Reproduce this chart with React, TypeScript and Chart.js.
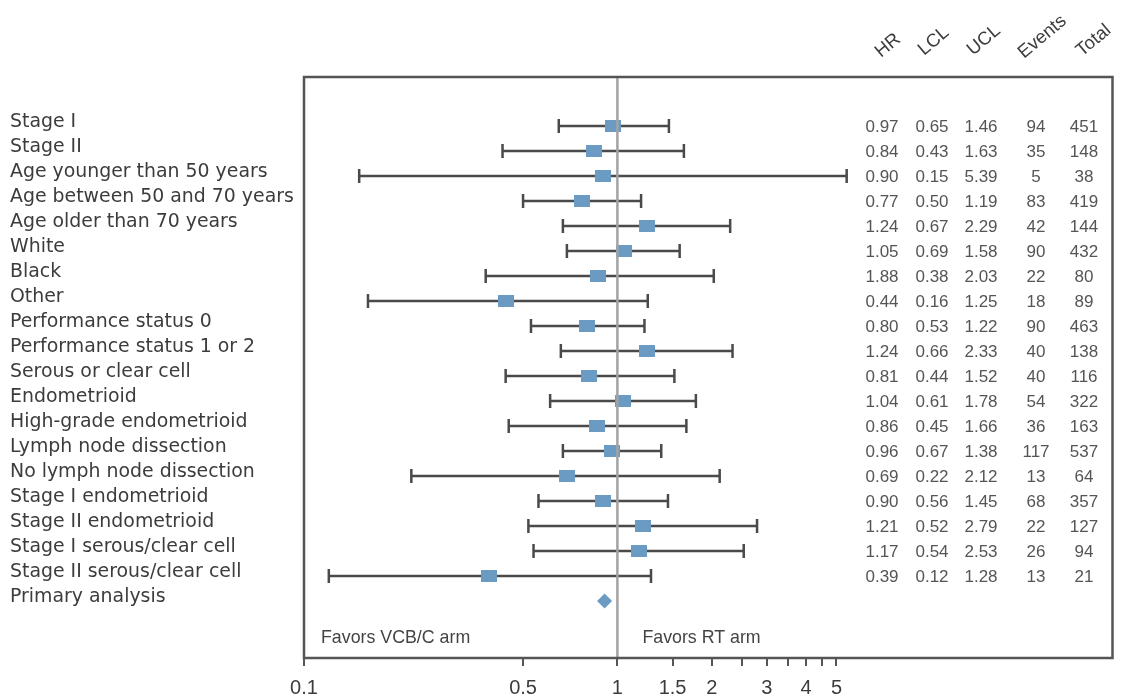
import React, { useEffect, useRef } from 'react';
import { Chart, registerables } from 'chart.js';

Chart.register(...registerables);

// ---------- data ----------
const subgroups = [
  'Stage I',
  'Stage II',
  'Age younger than 50 years',
  'Age between 50 and 70 years',
  'Age older than 70 years',
  'White',
  'Black',
  'Other',
  'Performance status 0',
  'Performance status 1 or 2',
  'Serous or clear cell',
  'Endometrioid',
  'High-grade endometrioid',
  'Lymph node dissection',
  'No lymph node dissection',
  'Stage I endometrioid',
  'Stage II endometrioid',
  'Stage I serous/clear cell',
  'Stage II serous/clear cell',
  'Primary analysis',
];

// plotted marker positions
const pointHR = [0.97, 0.84, 0.9, 0.77, 1.24, 1.05, 0.87, 0.44, 0.8, 1.24, 0.81, 1.04, 0.86, 0.96, 0.69, 0.9, 1.21, 1.17, 0.39];
const lowerCI = [0.65, 0.43, 0.15, 0.5, 0.67, 0.69, 0.38, 0.16, 0.53, 0.66, 0.44, 0.61, 0.45, 0.67, 0.22, 0.56, 0.52, 0.54, 0.12];
const upperCI = [1.46, 1.63, 5.39, 1.19, 2.29, 1.58, 2.03, 1.25, 1.22, 2.33, 1.52, 1.78, 1.66, 1.38, 2.12, 1.45, 2.79, 2.53, 1.28];
const primaryHR = 0.91;

// table text
const hrText = ['0.97', '0.84', '0.90', '0.77', '1.24', '1.05', '1.88', '0.44', '0.80', '1.24', '0.81', '1.04', '0.86', '0.96', '0.69', '0.90', '1.21', '1.17', '0.39'];
const lclText = ['0.65', '0.43', '0.15', '0.50', '0.67', '0.69', '0.38', '0.16', '0.53', '0.66', '0.44', '0.61', '0.45', '0.67', '0.22', '0.56', '0.52', '0.54', '0.12'];
const uclText = ['1.46', '1.63', '5.39', '1.19', '2.29', '1.58', '2.03', '1.25', '1.22', '2.33', '1.52', '1.78', '1.66', '1.38', '2.12', '1.45', '2.79', '2.53', '1.28'];
const eventsText = ['94', '35', '5', '83', '42', '90', '22', '18', '90', '40', '40', '54', '36', '117', '13', '68', '22', '26', '13'];
const totalText = ['451', '148', '38', '419', '144', '432', '80', '89', '463', '138', '116', '322', '163', '537', '64', '357', '127', '94', '21'];
const tableHeaders = ['HR', 'LCL', 'UCL', 'Events', 'Total'];

const xTicks = [0.1, 0.5, 1, 1.5, 2, 2.5, 3, 3.5, 4, 4.5, 5];
const xTickLabels = ['0.1', '0.5', '1', '1.5', '2', '', '3', '', '4', '', '5'];
const leftNote = 'Favors VCB/C arm';
const rightNote = 'Favors RT arm';

// ---------- layout / style ----------
const COL_X = [882, 932, 981, 1036, 1084];
const HEADER_ORIGIN = [
  [881, 58],
  [924, 56],
  [973, 56],
  [1024, 59],
  [1082, 57],
];
const MARKER = '#6b9bc3';
const WHISKER = '#4a4a4a';
const LABEL_FONT = '18.9px "DejaVu Sans", sans-serif';
const NUM_FONT = '17px "Liberation Sans", Arial, sans-serif';
const HEAD_FONT = '18.5px "Liberation Sans", Arial, sans-serif';
const NOTE_FONT = '17.8px "Liberation Sans", Arial, sans-serif';

function makeMarker(): HTMLCanvasElement {
  const c = document.createElement('canvas');
  c.width = 16;
  c.height = 12;
  const g = c.getContext('2d')!;
  g.fillStyle = MARKER;
  g.fillRect(0, 0, 16, 12);
  return c;
}

const forestPlugin = {
  id: 'forestDecor',
  afterDatasetsDraw(chart: any) {
    const { ctx, chartArea, scales } = chart;
    const px = scales.x.getPixelForValue(1);
    ctx.save();
    ctx.strokeStyle = '#a3a3a3';
    ctx.lineWidth = 2.5;
    ctx.beginPath();
    ctx.moveTo(px, chartArea.top);
    ctx.lineTo(px, chartArea.bottom);
    ctx.stroke();
    ctx.restore();
  },
  afterDraw(chart: any) {
    const { ctx, chartArea, scales } = chart;
    const x = scales.x;
    const y = scales.y;
    ctx.save();
    // frame
    ctx.strokeStyle = '#555555';
    ctx.lineWidth = 2.5;
    ctx.strokeRect(chartArea.left, chartArea.top, chartArea.right - chartArea.left, chartArea.bottom - chartArea.top);

    // subgroup labels
    ctx.fillStyle = '#3c3c3c';
    ctx.font = LABEL_FONT;
    ctx.textAlign = 'left';
    ctx.textBaseline = 'alphabetic';
    subgroups.forEach((s, i) => {
      ctx.fillText(s, 10, y.getPixelForValue(i) + 1);
    });

    // table
    ctx.fillStyle = '#555555';
    ctx.font = NUM_FONT;
    ctx.textAlign = 'center';
    const cols = [hrText, lclText, uclText, eventsText, totalText];
    cols.forEach((col, c) => {
      col.forEach((t, i) => {
        ctx.fillText(t, COL_X[c], y.getPixelForValue(i) + 6);
      });
    });

    // rotated headers
    ctx.fillStyle = '#3c3c3c';
    ctx.font = HEAD_FONT;
    ctx.textAlign = 'left';
    tableHeaders.forEach((h, c) => {
      ctx.save();
      ctx.translate(HEADER_ORIGIN[c][0], HEADER_ORIGIN[c][1]);
      ctx.rotate((-40 * Math.PI) / 180);
      ctx.fillText(h, 0, 0);
      ctx.restore();
    });

    // favors notes
    ctx.fillStyle = '#444444';
    ctx.font = NOTE_FONT;
    ctx.textAlign = 'left';
    const noteY = y.getPixelForValue(subgroups.length - 1) + 42;
    ctx.fillText(leftNote, chartArea.left + 17, noteY);
    ctx.fillText(rightNote, x.getPixelForValue(1) + 25, noteY);
    ctx.restore();
  },
};

export default function App() {
  const ref = useRef<HTMLCanvasElement | null>(null);

  useEffect(() => {
    document.body.style.margin = '0';
    const canvas = ref.current;
    if (!canvas) return;
    const marker = makeMarker();

    const whiskerSets = lowerCI.map((lo, i) => ({
      type: 'scatter' as const,
      data: [
        { x: lo, y: i },
        { x: upperCI[i], y: i },
      ],
      showLine: true,
      borderColor: WHISKER,
      borderWidth: 2.5,
      pointStyle: 'line' as const,
      rotation: 90,
      pointRadius: 7,
      pointBorderWidth: 2.5,
      pointBorderColor: WHISKER,
      pointBackgroundColor: WHISKER,
      order: 3,
    }));

    const chart = new Chart(canvas, {
      type: 'scatter',
      data: {
        datasets: [
          {
            data: pointHR.map((v, i) => ({ x: v, y: i })),
            pointStyle: marker as any,
            pointRadius: 8,
            order: 1,
          },
          {
            data: [{ x: primaryHR, y: subgroups.length - 1 }],
            pointStyle: 'rectRot',
            pointRadius: 7.5,
            backgroundColor: MARKER,
            borderColor: MARKER,
            borderWidth: 0,
            order: 1,
          },
          ...whiskerSets,
        ] as any,
      },
      options: {
        animation: false,
        responsive: true,
        maintainAspectRatio: false,
        layout: { padding: { left: 304, top: 77, right: 4, bottom: 0 } },
        plugins: { legend: { display: false }, tooltip: { enabled: false } },
        scales: {
          x: {
            type: 'logarithmic',
            min: 0.1,
            max: 38,
            border: { display: false },
            grid: {
              drawOnChartArea: false,
              drawTicks: true,
              tickLength: 8,
              color: '#555555',
              lineWidth: 2,
            },
            afterBuildTicks: (scale: any) => {
              scale.ticks = xTicks.map((v) => ({ value: v }));
            },
            afterFit: (scale: any) => {
              scale.height = 38;
            },
            ticks: {
              autoSkip: false,
              maxRotation: 0,
              padding: 10,
              color: '#3c3c3c',
              font: { family: '"Liberation Sans", Arial, sans-serif', size: 20 },
              callback: (value: any) => {
                const idx = xTicks.indexOf(Number(value));
                return idx >= 0 ? xTickLabels[idx] : '';
              },
            },
          },
          y: {
            type: 'linear',
            display: false,
            reverse: true,
            min: -1.96,
            max: 21.28,
          },
        },
      },
      plugins: [forestPlugin],
    });
    return () => chart.destroy();
  }, []);

  return (
    <div style={{ width: 1122, height: 696, position: 'relative' }}>
      <canvas ref={ref} />
    </div>
  );
}
